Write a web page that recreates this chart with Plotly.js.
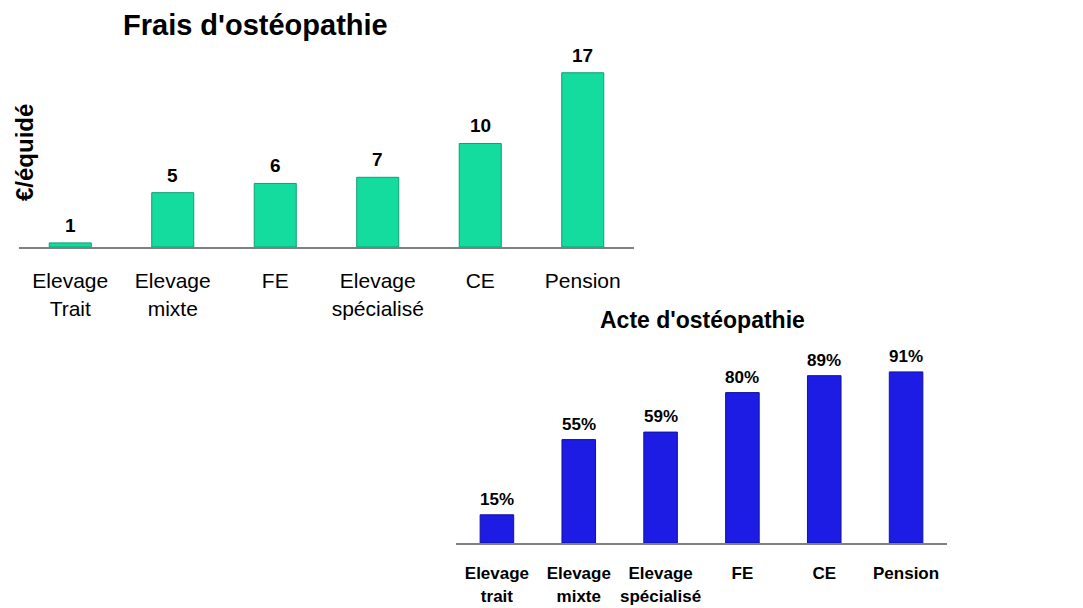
<!DOCTYPE html>
<html>
<head>
<meta charset="utf-8">
<script src="https://cdn.plot.ly/plotly-3.0.1.min.js"></script>
<style>html,body{margin:0;padding:0;background:#fff;}#chart{width:1083px;height:608px;}</style>
</head>
<body>
<div id="chart"></div>
<script>
// Top chart: Frais d'ostéopathie (€/équidé)
const fraisCategories = ["Elevage<br>Trait", "Elevage<br>mixte", "FE", "Elevage<br>spécialisé", "CE", "Pension"];
const fraisValues = [0.4, 5.3, 6.2, 6.8, 10.1, 17];
const fraisLabels = ["1", "5", "6", "7", "10", "17"];

// Bottom chart: Acte d'ostéopathie (%)
const acteCategories = ["Elevage<br>trait", "Elevage<br>mixte", "Elevage<br>spécialisé", "FE", "CE", "Pension"];
const acteValues = [15, 55, 59, 80, 89, 91];
const acteLabels = ["15%", "55%", "59%", "80%", "89%", "91%"];

const FONT = "Liberation Sans, Arial, sans-serif";

const traces = [
  {
    type: "bar", x: fraisCategories, y: fraisValues, xaxis: "x", yaxis: "y",
    width: 0.41,
    marker: {color: "#14dc9e", line: {color: "#0c9f73", width: 1}},
    hoverinfo: "none"
  },
  {
    type: "bar", x: acteCategories, y: acteValues, xaxis: "x2", yaxis: "y2",
    width: 0.41,
    marker: {color: "#1c1ce4", line: {color: "#12129c", width: 1}},
    hoverinfo: "none"
  }
];

const annotations = [];
fraisCategories.forEach((c, i) => annotations.push({
  x: c, y: fraisValues[i], xref: "x", yref: "y", text: "<b>" + fraisLabels[i] + "</b>",
  showarrow: false, yanchor: "bottom", yshift: 5, font: {family: FONT, size: 19, color: "#000"}
}));
acteCategories.forEach((c, i) => annotations.push({
  x: c, y: acteValues[i], xref: "x2", yref: "y2", text: "<b>" + acteLabels[i] + "</b>",
  showarrow: false, yanchor: "bottom", yshift: 4, font: {family: FONT, size: 17, color: "#000"}
}));
annotations.push({
  x: 255 / 1083, y: 1 - 25 / 608, xref: "paper", yref: "paper", text: "<b>Frais d'ostéopathie</b>",
  showarrow: false, xanchor: "center", yanchor: "middle", font: {family: FONT, size: 29, color: "#000"}
});
annotations.push({
  x: 702 / 1083, y: 1 - 320 / 608, xref: "paper", yref: "paper", text: "<b>Acte d'ostéopathie</b>",
  showarrow: false, xanchor: "center", yanchor: "middle", font: {family: FONT, size: 23, color: "#000"}
});
annotations.push({
  x: 24 / 1083, y: 1 - 153 / 608, xref: "paper", yref: "paper", text: "<b>€/équidé</b>",
  showarrow: false, textangle: -90, xanchor: "center", yanchor: "middle", font: {family: FONT, size: 24, color: "#000"}
});

const layout = {
  width: 1083, height: 608,
  margin: {l: 0, r: 0, t: 0, b: 0},
  paper_bgcolor: "#fff", plot_bgcolor: "rgba(0,0,0,0)",
  showlegend: false,
  xaxis: {
    domain: [19 / 1083, 634 / 1083], anchor: "y", type: "category",
    showline: true, linecolor: "#808080", linewidth: 2, showgrid: false, zeroline: false,
    ticks: "", ticklabelstandoff: 14,
    tickfont: {family: FONT, size: 21, color: "#000"}
  },
  yaxis: {
    domain: [(608 - 247) / 608, (608 - 42) / 608], anchor: "x", range: [0, 20],
    showline: false, showgrid: false, zeroline: false, showticklabels: false, ticks: ""
  },
  xaxis2: {
    domain: [456 / 1083, 947 / 1083], anchor: "y2", type: "category",
    showline: true, linecolor: "#808080", linewidth: 2, showgrid: false, zeroline: false,
    ticks: "", ticklabelstandoff: 14,
    tickfont: {family: FONT, size: 17, color: "#000", weight: "bold"}
  },
  yaxis2: {
    domain: [(608 - 543) / 608, (608 - 355) / 608], anchor: "x2", range: [0, 100],
    showline: false, showgrid: false, zeroline: false, showticklabels: false, ticks: ""
  },
  annotations: annotations
};

Plotly.newPlot("chart", traces, layout, {staticPlot: true, displayModeBar: false});
</script>
</body>
</html>
